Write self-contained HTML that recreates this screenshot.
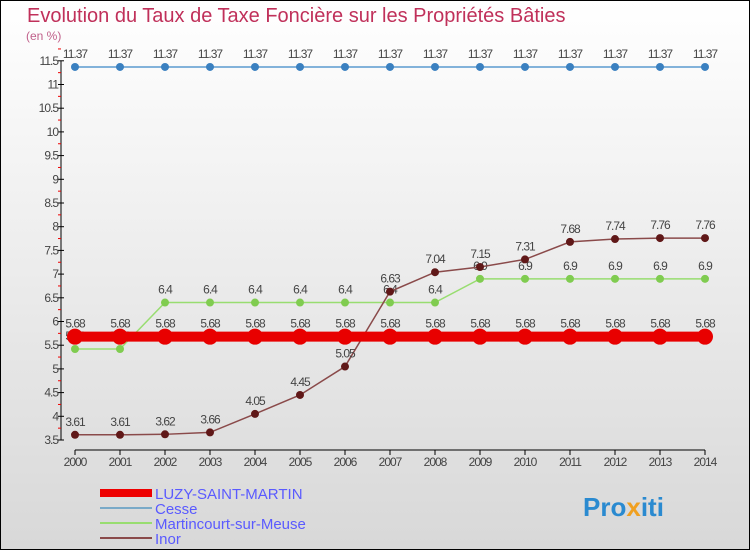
<!DOCTYPE html>
<html><head><meta charset="utf-8"><style>
body{margin:0}
#c{width:750px;height:550px;position:relative;box-sizing:border-box;border:1px solid #000;background:linear-gradient(#fff,#d8d8d8);font-family:"Liberation Sans",sans-serif;overflow:hidden}
</style></head><body>
<div id="c">
<svg id="s" width="750" height="550" style="position:absolute;left:-1px;top:-1px">
<text x="27" y="22" font-size="20" fill="#c0305a">Evolution du Taux de Taxe Foncière sur les Propriétés Bâties</text>
<text x="26" y="40" font-size="12" fill="#c0608a">(en %)</text>
<g id="axes"></g><g id="series"></g>
<g>
<rect x="100" y="489" width="52" height="8" fill="#e00"/>
<text x="155" y="499" font-size="15" fill="#5a5aff">LUZY-SAINT-MARTIN</text>
<line x1="100" y1="508" x2="152" y2="508" stroke="#7aaac8" stroke-width="2"/>
<text x="155" y="514" font-size="15" fill="#5a5aff">Cesse</text>
<line x1="100" y1="523" x2="152" y2="523" stroke="#98dd70" stroke-width="2"/>
<text x="155" y="529" font-size="15" fill="#5a5aff">Martincourt-sur-Meuse</text>
<line x1="100" y1="538" x2="152" y2="538" stroke="#8a4a4a" stroke-width="2"/>
<text x="155" y="544" font-size="15" fill="#5a5aff">Inor</text>
</g>
<text x="583" y="516" font-size="26" font-weight="bold" fill="#2a8ad0">Pro<tspan fill="#f0a020">x</tspan>iti</text>
</svg>
</div>
<script>
const years=[2000,2001,2002,2003,2004,2005,2006,2007,2008,2009,2010,2011,2012,2013,2014];
const luzy=[5.68,5.68,5.68,5.68,5.68,5.68,5.68,5.68,5.68,5.68,5.68,5.68,5.68,5.68,5.68];
const cesse=[11.37,11.37,11.37,11.37,11.37,11.37,11.37,11.37,11.37,11.37,11.37,11.37,11.37,11.37,11.37];
const martincourt=[5.42,5.42,6.4,6.4,6.4,6.4,6.4,6.4,6.4,6.9,6.9,6.9,6.9,6.9,6.9];
const inor=[3.61,3.61,3.62,3.66,4.05,4.45,5.05,6.63,7.04,7.15,7.31,7.68,7.74,7.76,7.76];
const yTicks=[3.5,4,4.5,5,5.5,6,6.5,7,7.5,8,8.5,9,9.5,10,10.5,11,11.5];
const NS="http://www.w3.org/2000/svg";
const X=y=>75+(y-2000)*45;
const Y=v=>440-(v-3.5)*47.4;
function mk(t,a,p){const e=document.createElementNS(NS,t);for(const k in a)e.setAttribute(k,a[k]);p.appendChild(e);return e;}
const ax=document.getElementById('axes');
mk('line',{x1:61,y1:Y(11.5),x2:61,y2:Y(3.5),stroke:'#000'},ax);
mk('line',{x1:X(2000),y1:450,x2:X(2014),y2:450,stroke:'#000'},ax);
yTicks.forEach(v=>{
 mk('line',{x1:58,y1:Y(v),x2:64,y2:Y(v),stroke:'#000'},ax);
 mk('line',{x1:58,y1:Y(v+0.25),x2:61,y2:Y(v+0.25),stroke:'#e00'},ax);
 const t=mk('text',{x:58,y:Y(v)+4,'font-size':12,'text-anchor':'end',fill:'#444','letter-spacing':'-1'},ax);
 
 
 t.textContent=String(v);
});
years.forEach(y=>{
 mk('line',{x1:X(y),y1:450,x2:X(y),y2:455,stroke:'#000'},ax);
 const t=mk('text',{x:X(y),y:466,'font-size':12,'text-anchor':'middle',fill:'#444','letter-spacing':'-1'},ax);
 
 
 t.textContent=String(y);
});
const sg=document.getElementById('series');
function series(name,vals,color,lw,r,dot){
 const g=mk('g',{},sg);
 
 
 mk('polyline',{points:vals.map((v,i)=>X(years[i])+','+Y(v)).join(' '),fill:'none',stroke:color,'stroke-width':lw},g);
 vals.forEach((v,i)=>{
  const c=mk('circle',{cx:X(years[i]),cy:Y(v),r:r,fill:dot},g);
  
  
  const t=mk('text',{x:X(years[i]),y:Y(v)-9,'font-size':12,'text-anchor':'middle',fill:'#444','letter-spacing':'-1'},g);
  
  
  t.textContent=String(v);
 });
}
series('cesse',cesse,'#5a9ad0',1.5,4,'#3a80c0');
series('martincourt',martincourt,'#98dd70',1.5,4,'#80cc50');
series('inor',inor,'#8a4a4a',1.5,4,'#601818');
series('luzy',luzy,'#e80000',10,8,'#e80000');
</script>
</body></html>
